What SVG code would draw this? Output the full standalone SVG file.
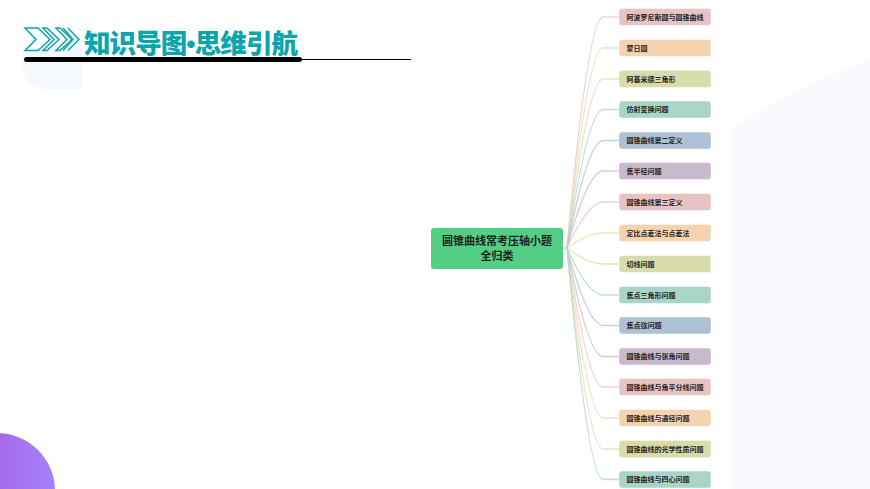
<svg xmlns="http://www.w3.org/2000/svg" width="870" height="489" viewBox="0 0 870 489">
<style>
.f{font-family:"Noto Sans CJK SC","Noto Sans",sans-serif}
.n rect{stroke-width:1;stroke-opacity:.45;stroke:#fff}
.n text{font-family:"Noto Sans CJK SC","Noto Sans",sans-serif;font-size:7px;font-weight:700;fill:#1f1f1f}
.c path{fill:none;stroke-width:1.300;stroke-opacity:.75}
.p{fill:#e8c3c3}.o{fill:#f4d4b0}.g{fill:#d8dcab}.t{fill:#a9d5c9}.b{fill:#aec0d3}.v{fill:#c8b9cc}
.ch{fill:none;stroke:#0aa5ad;stroke-width:1.500}
</style>
<defs>
<linearGradient id="pg" x1="0" x2="1" y1="0" y2="0"><stop offset="0" stop-color="#a450dd"/><stop offset="1" stop-color="#a682fc"/></linearGradient>
</defs>
<rect width="870" height="489" fill="#fff"/>
<rect x="731" y="28" width="139" height="70" fill="#fefefe"/>
<path d="M731 127Q800 85 870 60V489H731Z" fill="#faf9fe"/>
<circle cx="-3" cy="491" r="58" fill="url(#pg)"/>
<path d="M22 48H82V90H52Q22 90 22 60Z" fill="#f5f9fd"/>
<g id="title">
<path class="ch" d="M25 28H38L50 39.500L38 50.500H25L36 39.500Z"/>
<path class="ch" d="M43 28H47L59 39.500L47 50.500H43L54 39.500Z"/>
<path class="ch" d="M56 28H60L72 39.500L60 50.500H56L67 39.500Z"/>
<path class="ch" d="M63 28L73 39.500L63 50.500M68 28L79 39.500L68 50.500"/>
<text class="f" x="84" y="53" font-size="26.500" font-weight="900" fill="#0aa5ad" textLength="214" lengthAdjust="spacing">知识导图<tspan font-family="Liberation Sans" font-weight="700">•</tspan>思维引航</text>
<rect x="24" y="57" width="278" height="5" rx="2.500" fill="#000"/>
<rect x="302" y="59" width="109" height="1" fill="#000"/>
</g>
<g id="connectors" class="c">
<path d="M563 248H567" stroke="#a9d5c9"/>
<path stroke="#e8c3c3" d="M567 248Q588 17 603 17H619"/>
<path stroke="#f4d4b0" d="M567 248Q588 48 603 48H619"/>
<path stroke="#d8dcab" d="M567 248Q588 79 603 79H619"/>
<path stroke="#a9d5c9" d="M567 248Q588 109.500 603 109.500H619"/>
<path stroke="#aec0d3" d="M567 248Q588 140.500 603 140.500H619"/>
<path stroke="#c8b9cc" d="M567 248Q588 171 603 171H619"/>
<path stroke="#e8c3c3" d="M567 248Q588 202 603 202H619"/>
<path stroke="#f4d4b0" d="M567 248Q588 233 603 233H619"/>
<path stroke="#d8dcab" d="M567 248Q588 264 603 264H619"/>
<path stroke="#a9d5c9" d="M567 248Q588 295 603 295H619"/>
<path stroke="#aec0d3" d="M567 248Q588 325.500 603 325.500H619"/>
<path stroke="#c8b9cc" d="M567 248Q588 356.500 603 356.500H619"/>
<path stroke="#e8c3c3" d="M567 248Q588 387 603 387H619"/>
<path stroke="#f4d4b0" d="M567 248Q588 418 603 418H619"/>
<path stroke="#d8dcab" d="M567 248Q588 449 603 449H619"/>
<path stroke="#a9d5c9" d="M567 248Q588 479.500 603 479.500H619"/>
</g>
<g id="root">
<rect x="431" y="228" width="132" height="41" rx="3" fill="#52cf85"/>
<text class="f" x="497" y="245" font-size="11" font-weight="700" fill="#1f1f1f" text-anchor="middle">圆锥曲线常考压轴小题</text>
<text class="f" x="497" y="260" font-size="11" font-weight="700" fill="#1f1f1f" text-anchor="middle">全归类</text>
</g>
<g id="n1" class="n"><rect class="p" x="619" y="8.500" width="92" height="17" rx="3"/><text x="626.500" y="19.500">阿波罗尼斯圆与圆锥曲线</text></g>
<g id="n2" class="n"><rect class="o" x="619" y="39.500" width="92" height="17" rx="3"/><text x="626.500" y="50.500">蒙日圆</text></g>
<g id="n3" class="n"><rect class="g" x="619" y="70.500" width="92" height="17" rx="3"/><text x="626.500" y="81.500">阿基米德三角形</text></g>
<g id="n4" class="n"><rect class="t" x="619" y="101" width="92" height="17" rx="3"/><text x="626.500" y="112">仿射变换问题</text></g>
<g id="n5" class="n"><rect class="b" x="619" y="132" width="92" height="17" rx="3"/><text x="626.500" y="143">圆锥曲线第二定义</text></g>
<g id="n6" class="n"><rect class="v" x="619" y="162.500" width="92" height="17" rx="3"/><text x="626.500" y="173.500">焦半径问题</text></g>
<g id="n7" class="n"><rect class="p" x="619" y="193.500" width="92" height="17" rx="3"/><text x="626.500" y="204.500">圆锥曲线第三定义</text></g>
<g id="n8" class="n"><rect class="o" x="619" y="224.500" width="92" height="17" rx="3"/><text x="626.500" y="235.500">定比点差法与点差法</text></g>
<g id="n9" class="n"><rect class="g" x="619" y="255.500" width="92" height="17" rx="3"/><text x="626.500" y="266.500">切线问题</text></g>
<g id="n10" class="n"><rect class="t" x="619" y="286.500" width="92" height="17" rx="3"/><text x="626.500" y="297.500">焦点三角形问题</text></g>
<g id="n11" class="n"><rect class="b" x="619" y="317" width="92" height="17" rx="3"/><text x="626.500" y="328">焦点弦问题</text></g>
<g id="n12" class="n"><rect class="v" x="619" y="348" width="92" height="17" rx="3"/><text x="626.500" y="359">圆锥曲线与张角问题</text></g>
<g id="n13" class="n"><rect class="p" x="619" y="378.500" width="92" height="17" rx="3"/><text x="626.500" y="389.500">圆锥曲线与角平分线问题</text></g>
<g id="n14" class="n"><rect class="o" x="619" y="409.500" width="92" height="17" rx="3"/><text x="626.500" y="420.500">圆锥曲线与通径问题</text></g>
<g id="n15" class="n"><rect class="g" x="619" y="440.500" width="92" height="17" rx="3"/><text x="626.500" y="451.500">圆锥曲线的光学性质问题</text></g>
<g id="n16" class="n"><rect class="t" x="619" y="471" width="92" height="17" rx="3"/><text x="626.500" y="482">圆锥曲线与四心问题</text></g>
</svg>
